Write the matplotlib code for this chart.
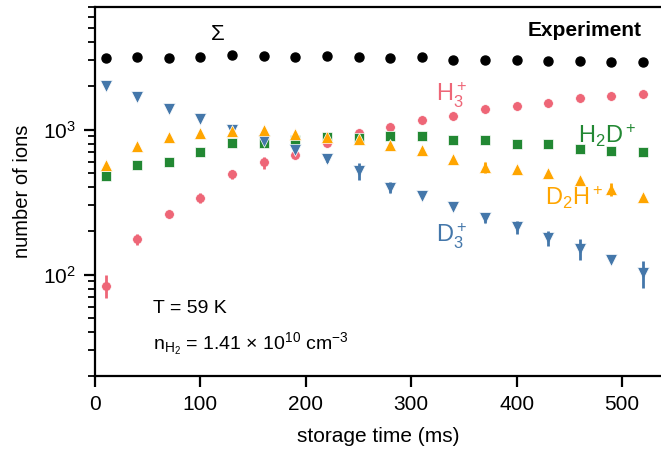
import numpy as np
import matplotlib
matplotlib.use("Agg")
import matplotlib.pyplot as plt
from matplotlib.ticker import LogLocator, NullFormatter, FixedLocator

plt.rcParams['font.family'] = ['Liberation Sans', 'DejaVu Sans']
plt.rcParams['mathtext.fontset'] = 'custom'
plt.rcParams['mathtext.rm'] = 'Liberation Sans'
plt.rcParams['mathtext.it'] = 'Liberation Sans'
plt.rcParams['mathtext.bf'] = 'Liberation Sans:bold'

# storage time (ms)
time = [10, 40, 70, 100, 130, 160, 190, 220, 250, 280, 310, 340, 370, 400, 430, 460, 490, 520]

sigma = [3120, 3170, 3105, 3170, 3270, 3220, 3155, 3220, 3170, 3120, 3140, 3020, 3020, 3010, 2990, 2970, 2940, 2910]
h3 = [84, 175, 262, 338, 493, 593, 671, 809, 949, 1044, 1159, 1236, 1376, 1450, 1521, 1640, 1701, 1757]
h3_err = [15, 16, 0, 27, 36, 56, 20, 0, 0, 0, 0, 0, 0, 0, 0, 0, 0, 0]
h2d = [482, 566, 600, 704, 804, 809, 843, 885, 876, 899, 904, 853, 843, 800, 800, 730, 707, 697]
d2h = [572, 766, 885, 949, 973, 1000, 934, 890, 866, 779, 719, 627, 548, 539, 501, 450, 390, 345]
d2h_err = [0, 0, 0, 0, 0, 0, 0, 0, 0, 0, 0, 0, 45, 0, 0, 0, 40, 0]
d3 = [1995, 1674, 1376, 1192, 1000, 829, 719, 627, 522, 398, 349, 294, 247, 212, 178, 151, 126, 103]
d3_err = [0, 0, 0, 0, 0, 0, 0, 30, 70, 35, 0, 0, 20, 22, 21, 25, 0, 22]

c_h3 = '#EE6677'
c_h2d = '#228833'
c_d2h = '#FFA500'
c_d3 = '#4477AA'

fig = plt.figure(figsize=(6.61, 4.5), dpi=100)
ax = fig.add_axes([95/661, 74/450, 566/661, 369/450])

mk = dict(ls='none', mec='white', mew=0.5)
eb = dict(fmt='none', elinewidth=2, capsize=0)
ax.plot(time, h3, 'o', color=c_h3, ms=7, zorder=2, **mk)
ax.errorbar(time, h3, yerr=h3_err, ecolor=c_h3, zorder=2.1, **eb)
ax.plot(time, h2d, 's', color=c_h2d, ms=7, zorder=2.2, **mk)
ax.plot(time, d3, 'v', color=c_d3, ms=9, zorder=2.3, **mk)
ax.errorbar(time, d3, yerr=d3_err, ecolor=c_d3, zorder=2.4, **eb)
ax.plot(time, d2h, '^', color=c_d2h, ms=9, zorder=2.5, **mk)
ax.errorbar(time, d2h, yerr=d2h_err, ecolor=c_d2h, zorder=2.6, **eb)
ax.plot(time, sigma, 'o', color='black', ms=6.5, ls='none', zorder=3)

ax.set_yscale('log')
ax.set_xlim(0, 537)
ax.set_ylim(20, 7000)
ax.xaxis.set_major_locator(FixedLocator([0, 100, 200, 300, 400, 500]))
ax.yaxis.set_major_locator(LogLocator(base=10, numticks=10))
ax.yaxis.set_minor_locator(LogLocator(base=10, subs=np.arange(2, 10), numticks=20))
ax.yaxis.set_minor_formatter(NullFormatter())

for s in ['left', 'bottom', 'top']:
    ax.spines[s].set_linewidth(1.6)
ax.spines['right'].set_visible(False)
ax.tick_params(axis='both', which='major', direction='out', length=8, width=1.6, labelsize=15, pad=6)
ax.tick_params(axis='y', which='minor', direction='out', length=5, width=1.3)

ax.set_xlabel('storage time (ms)', fontsize=15, labelpad=9)
ax.set_ylabel('number of ions', fontsize=14.5, labelpad=8)

ax.text(116, 4550, r'$\Sigma$', fontsize=16, ha='center', va='center')
ax.text(0.965, 0.935, 'Experiment', transform=ax.transAxes, fontsize=15,
        fontweight='bold', ha='right', va='center')
ax.text(324, 1720, r'H$_3^+$', color=c_h3, fontsize=17, ha='left', va='center')
ax.text(458, 905, r'H$_2$D$^+$', color=c_h2d, fontsize=17, ha='left', va='center')
ax.text(427, 340, r'D$_2$H$^+$', color=c_d2h, fontsize=17, ha='left', va='center')
ax.text(324, 185, r'D$_3^+$', color=c_d3, fontsize=17, ha='left', va='center')

ax.text(0.102, 0.17, 'T = 59 K', transform=ax.transAxes, fontsize=14, ha='left', va='baseline')
ax.text(0.102, 0.072, r'n$_{\mathrm{H}_2}$ = 1.41 × 10$^{10}$ cm$^{-3}$', transform=ax.transAxes,
        fontsize=14, ha='left', va='baseline')

fig.savefig('out.png', dpi=100)
